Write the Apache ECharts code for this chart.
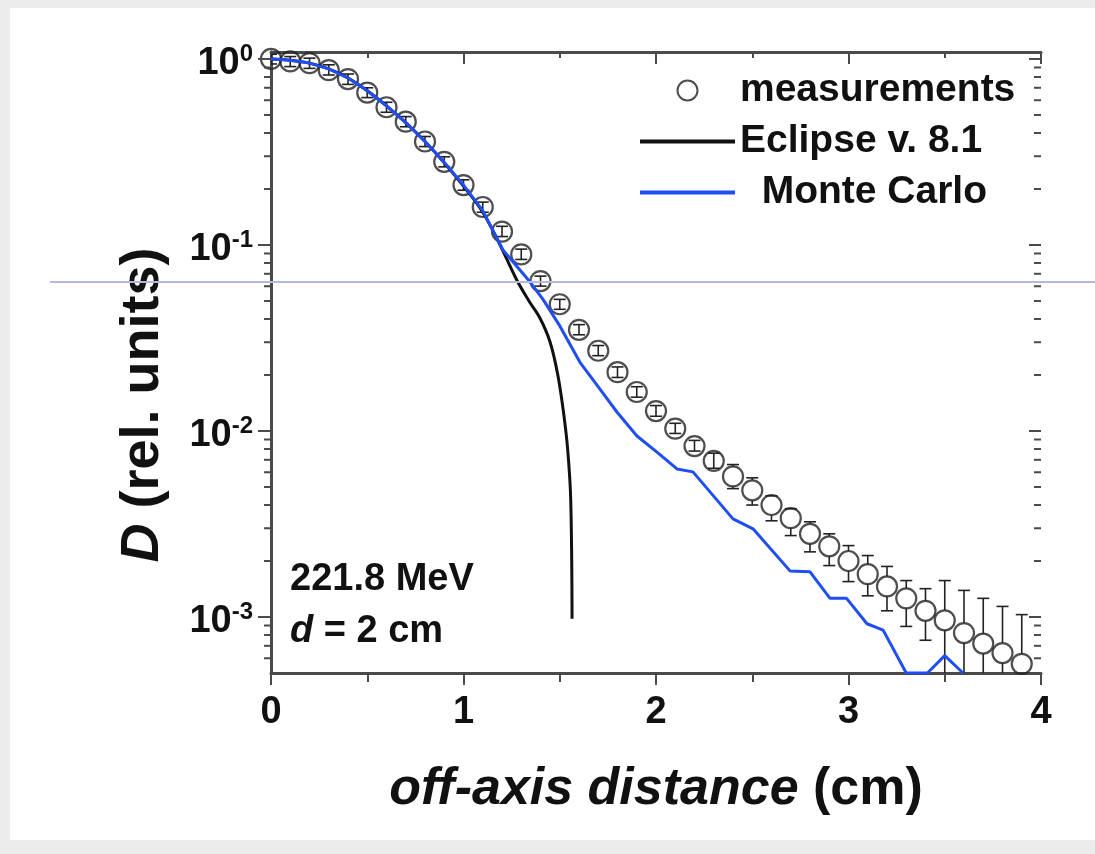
<!DOCTYPE html>
<html><head><meta charset="utf-8">
<script src="https://cdn.jsdelivr.net/npm/echarts@6/dist/echarts.min.js"></script>
<style>html,body{margin:0;padding:0;background:#ececec}#c{width:1095px;height:854px}</style>
</head><body><div id="c"></div>
<script>
const FONT = '"Liberation Sans", Arial, Helvetica, sans-serif';

// measurements (off-axis distance in cm, relative dose)
const measX = [0,0.1,0.2,0.3,0.4,0.5,0.6,0.7,0.8,0.9,1.0,1.1,1.2,1.3,1.4,1.5,1.6,1.7,1.8,1.9,2.0,2.1,2.2,2.3,2.4,2.5,2.6,2.7,2.8,2.9,3.0,3.1,3.2,3.3,3.4,3.5,3.6,3.7,3.8,3.9];
const measY = [1.0,0.97,0.95,0.87,0.78,0.66,0.55,0.46,0.36,0.28,0.21,0.16,0.118,0.089,0.064,0.048,0.035,0.027,0.0207,0.0162,0.0128,0.0103,0.0083,0.0069,0.0057,0.0048,0.0040,0.0034,0.0028,0.0024,0.0020,0.0017,0.00146,0.00126,0.00108,0.00096,0.00082,0.00072,0.00064,0.00056];
const errHigh = [1.06,1.03,1.01,0.93,0.83,0.70,0.585,0.49,0.383,0.298,0.224,0.170,0.126,0.095,0.068,0.051,0.0373,0.0288,0.0221,0.0173,0.0137,0.0110,0.0089,0.0076,0.0066,0.0056,0.00448,0.00382,0.00325,0.00280,0.00242,0.00214,0.00187,0.00157,0.00142,0.00157,0.00139,0.00126,0.00114,0.00103];
const errLow = [0.94,0.91,0.89,0.82,0.73,0.62,0.517,0.432,0.338,0.263,0.197,0.150,0.111,0.0836,0.0601,0.0451,0.0329,0.0254,0.0194,0.0152,0.0120,0.0097,0.0078,0.0063,0.0049,0.0040,0.00329,0.00274,0.00224,0.00189,0.00155,0.00130,0.00108,0.00089,0.00075,0.0001,0.0001,0.0001,0.0001,0.0001];

// Eclipse v. 8.1
const eclX = [0,0.1,0.2,0.3,0.4,0.5,0.6,0.7,0.8,0.9,1.0,1.1,1.19,1.276,1.34,1.397,1.45,1.49,1.52,1.541,1.557,1.564];
const eclY = [1.0,0.985,0.95,0.885,0.79,0.675,0.56,0.455,0.36,0.277,0.207,0.150,0.100,0.065,0.050,0.0405,0.030,0.020,0.0125,0.0080,0.0043,0.00098];

// Monte Carlo
const mcX = [0,0.1,0.2,0.3,0.4,0.5,0.6,0.7,0.8,0.9,1.0,1.1,1.205,1.335,1.413,1.501,1.605,1.709,1.797,1.901,2.005,2.109,2.192,2.40,2.504,2.696,2.80,2.904,2.99,3.096,3.18,3.30,3.41,3.50,3.595];
const mcY = [1.0,0.985,0.95,0.885,0.79,0.675,0.56,0.455,0.36,0.278,0.21,0.153,0.094,0.0653,0.051,0.0366,0.0234,0.0168,0.01265,0.0094,0.0077,0.00625,0.00603,0.00337,0.00298,0.00177,0.00175,0.00126,0.00126,0.00092,0.00085,0.0005,0.0005,0.00062,0.0005];

// axis ticks / labels
const xTicks = [0,1,2,3,4];
const yMajorTicks = [0.001,0.01,0.1,1];
const yMinorTicks = [0.0006,0.0007,0.0008,0.0009,0.002,0.003,0.004,0.005,0.006,0.007,0.008,0.009,0.02,0.03,0.04,0.05,0.06,0.07,0.08,0.09,0.2,0.3,0.4,0.5,0.6,0.7,0.8,0.9];

const AX = '#4a4a4a';
const BLUE = '#1f4ef5';
const tickData = [];
yMajorTicks.forEach(v => { tickData.push([0, v, 13]); tickData.push([4, v, 12]); });
yMinorTicks.forEach(v => { tickData.push([0, v, 7]); tickData.push([4, v, 7]); });

const chart = echarts.init(document.getElementById('c'));
const option = {
  backgroundColor: '#ececec',
  animation: false,
  textStyle: {fontFamily: FONT},
  grid: {left: 271, right: 54, top: 52, bottom: 181, containLabel: false},
  legend: {
    orient: 'vertical', left: 638, top: 70, padding: 0, itemWidth: 95, itemHeight: 20, itemGap: 10,
    textStyle: {fontSize: 39, fontWeight: 'bold', color: '#111', fontFamily: FONT, lineHeight: 41},
    formatter: n => n === 'Monte Carlo' ? '  ' + n : n,
    data: [
      {name: 'measurements', icon: 'circle', itemStyle: {color: 'rgba(0,0,0,0)', borderColor: '#222', borderWidth: 2}},
      {name: 'Eclipse v. 8.1', itemStyle: {opacity: 0}, lineStyle: {width: 4, color: '#111'}},
      {name: 'Monte Carlo', itemStyle: {opacity: 0}, lineStyle: {width: 4, color: BLUE}}
    ]
  },
  xAxis: [{
    type: 'value', min: 0, max: 4, interval: 1, position: 'bottom',
    name: '{i|off-axis distance} (cm)', nameLocation: 'middle', nameGap: 91,
    nameTextStyle: {fontSize: 52, fontWeight: 'bold', color: '#111', fontFamily: FONT,
      rich: {i: {fontSize: 52, fontWeight: 'bold', fontStyle: 'italic', color: '#111', fontFamily: FONT}}},
    axisLine: {show: true, lineStyle: {color: AX, width: 3}},
    axisTick: {show: true, inside: false, length: 12, lineStyle: {color: AX, width: 2}},
    minorTick: {show: true, splitNumber: 2, length: 9, lineStyle: {color: AX, width: 2}},
    axisLabel: {fontSize: 38, fontWeight: 'bold', color: '#111', margin: 21, fontFamily: FONT,
      formatter: v => xTicks.includes(v) ? String(v) : ''},
    splitLine: {show: false}
  }, {
    type: 'value', min: 0, max: 4, interval: 1, position: 'top',
    axisLine: {show: true, lineStyle: {color: AX, width: 3}},
    axisTick: {show: true, inside: true, length: 12, lineStyle: {color: AX, width: 2}},
    minorTick: {show: true, splitNumber: 2, length: 6, lineStyle: {color: AX, width: 2}},
    axisLabel: {show: false}, splitLine: {show: false}
  }],
  yAxis: [{
    type: 'log', min: 0.0005, max: 1.09, position: 'left',
    axisLine: {show: true, lineStyle: {color: AX, width: 3}},
    axisTick: {show: false}, minorTick: {show: false},
    axisLabel: {
      margin: 18, color: '#111', showMinLabel: false, showMaxLabel: false,
      formatter: v => {
        const l = Math.log10(v), e = Math.round(l);
        if (Math.abs(l - e) > 1e-6) return '';
        return '{b|10}{s|' + e + '}';
      },
      rich: {
        b: {fontSize: 38, fontWeight: 'bold', color: '#111', fontFamily: FONT, lineHeight: 40, padding: [10, 0, 0, 0]},
        s: {fontSize: 24, fontWeight: 'bold', color: '#111', fontFamily: FONT, verticalAlign: 'top', lineHeight: 24, padding: [3, 0, 0, 0]}
      }
    },
    splitLine: {show: false}
  }, {
    type: 'log', min: 0.0005, max: 1.09, position: 'right',
    axisLine: {show: true, lineStyle: {color: AX, width: 3}},
    axisTick: {show: false}, axisLabel: {show: false}, splitLine: {show: false}
  }],
  graphic: [
    {type: 'rect', z: -100, silent: true, shape: {x: 10, y: 8, width: 1085, height: 832}, style: {fill: '#ffffff'}},
    {type: 'text', z: 100, left: 290, top: 561, silent: true,
      style: {text: '{n|221.8 MeV}\n{i|d}{n| = 2 cm}', fill: '#111',
        rich: {n: {fontSize: 38, fontWeight: 'bold', fontFamily: FONT, lineHeight: 52, fill: '#111'},
               i: {fontSize: 38, fontWeight: 'bold', fontStyle: 'italic', fontFamily: FONT, lineHeight: 52, fill: '#111'}}}},
    {type: 'text', z: 100, x: 143, y: 405, rotation: Math.PI / 2, silent: true,
      style: {text: '{i|D} (rel. units)', fill: '#111', align: 'center', verticalAlign: 'middle',
        font: 'bold 54px ' + FONT,
        rich: {i: {fontSize: 54, fontWeight: 'bold', fontStyle: 'italic', fontFamily: FONT, fill: '#111'}}}},
    {type: 'line', z: 100, silent: true, shape: {x1: 50, y1: 282, x2: 1095, y2: 282}, style: {stroke: '#b4b8dc', lineWidth: 2}}
  ],
  series: [
    {
      name: 'ticks', type: 'custom', coordinateSystem: 'cartesian2d', xAxisIndex: 0, yAxisIndex: 0,
      clip: false, silent: true, z: 6,
      encode: {x: 0, y: 1},
      data: tickData,
      renderItem: (params, api) => {
        const p = api.coord([api.value(0), api.value(1)]);
        const len = api.value(2);
        return {type: 'line', shape: {x1: p[0] - len, y1: p[1], x2: p[0], y2: p[1]}, style: {stroke: AX, lineWidth: 2}};
      }
    },
    {
      name: 'measurements', type: 'scatter', symbol: 'circle', symbolSize: 20, z: 2,
      itemStyle: {color: 'rgba(0,0,0,0)', borderColor: '#222', borderWidth: 2.2},
      data: measX.map((x, i) => [x, measY[i]])
    },
    {
      name: 'errors', type: 'custom', clip: true, silent: true, z: 3,
      encode: {x: 0, y: [1, 2]},
      data: measX.map((x, i) => [x, errLow[i], errHigh[i], measY[i]]),
      renderItem: (params, api) => {
        const x = api.value(0);
        const pHi = api.coord([x, api.value(2)]);
        const pLo = api.coord([x, api.value(1)]);
        const pC = api.coord([x, api.value(3)]);
        const r = 10, cap = 6;
        const st = {stroke: '#222', lineWidth: 1.6};
        const ch = [];
        const L = (x1, y1, x2, y2) => ch.push({type: 'line', shape: {x1, y1, x2, y2}, style: st});
        if (pC[1] - pHi[1] <= r && pLo[1] - pC[1] <= r) {
          L(pC[0], pHi[1], pC[0], pLo[1]);
        } else {
          L(pC[0], pHi[1], pC[0], pC[1] - r);
          L(pC[0], pC[1] + r, pC[0], pLo[1]);
        }
        L(pC[0] - cap, pHi[1], pC[0] + cap, pHi[1]);
        L(pC[0] - cap, pLo[1], pC[0] + cap, pLo[1]);
        return {type: 'group', children: ch};
      }
    },
    {
      name: 'Eclipse v. 8.1', type: 'line', symbol: 'none', smooth: 0.35, z: 4,
      lineStyle: {color: '#111', width: 3}, itemStyle: {color: '#111'},
      data: eclX.map((x, i) => [x, eclY[i]])
    },
    {
      name: 'Monte Carlo', type: 'line', symbol: 'none', z: 5,
      lineStyle: {color: BLUE, width: 3}, itemStyle: {color: BLUE},
      data: mcX.map((x, i) => [x, mcY[i]])
    }
  ]
};
chart.setOption(option);
</script>
</body></html>
